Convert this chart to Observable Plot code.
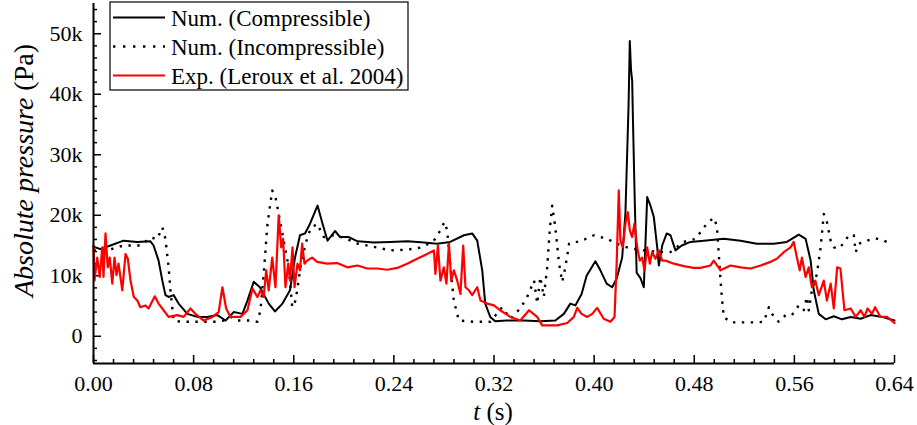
<!DOCTYPE html>
<html><head><meta charset="utf-8">
<script src="https://cdn.jsdelivr.net/npm/d3@7"></script>
<script src="https://cdn.jsdelivr.net/npm/@observablehq/plot@0.6"></script>
<style>body{margin:0;background:#fff}</style>
</head><body><div id="chart"></div>
<script>
// [t (s), absolute pressure (Pa)]
const compressible = [[0,14800],[0.0056,14400],[0.0136,15000],[0.024,15800],[0.035,15600],[0.0455,15700],[0.048,15000],[0.052,12500],[0.055,9200],[0.0575,6800],[0.060,6500],[0.064,6800],[0.068,5400],[0.075,3700],[0.083,3200],[0.091,3200],[0.099,3500],[0.1055,2600],[0.112,4000],[0.119,3700],[0.123,5900],[0.128,9000],[0.133,8100],[0.140,5400],[0.145,4100],[0.151,5400],[0.157,7600],[0.161,13000],[0.165,16700],[0.169,17000],[0.173,18600],[0.179,21600],[0.183,18600],[0.187,15800],[0.193,17400],[0.197,16400],[0.204,16400],[0.211,15700],[0.224,15500],[0.237,15600],[0.251,15700],[0.264,15500],[0.2746,15300],[0.285,15600],[0.296,16700],[0.3026,17000],[0.3066,15800],[0.3106,10900],[0.313,5400],[0.317,3200],[0.321,2500],[0.330,2600],[0.344,2600],[0.357,2500],[0.369,2600],[0.3758,3700],[0.381,5400],[0.385,5100],[0.390,7000],[0.394,10000],[0.401,12400],[0.405,10900],[0.410,8700],[0.4144,8100],[0.418,9500],[0.4224,13000],[0.425,20300],[0.4275,38000],[0.4285,48800],[0.4295,44000],[0.4304,42200],[0.431,36000],[0.4325,22000],[0.434,10500],[0.437,9600],[0.4397,8100],[0.4424,23000],[0.445,21600],[0.4477,19700],[0.4504,14700],[0.4517,11700],[0.4544,15000],[0.458,17000],[0.461,16700],[0.465,14200],[0.470,15000],[0.477,15600],[0.4877,15800],[0.5036,16100],[0.517,15800],[0.530,15300],[0.5435,15300],[0.554,15600],[0.5635,16800],[0.569,16100],[0.573,12500],[0.5755,7600],[0.5795,3700],[0.585,2800],[0.5915,3300],[0.598,2800],[0.605,3200],[0.613,2900],[0.621,3500],[0.630,3200],[0.64,2600]];

const incompressible = [[0,14200],[0.011,14200],[0.024,15000],[0.0375,15000],[0.0455,16300],[0.051,16100],[0.055,18000],[0.0575,16100],[0.060,11400],[0.0615,7600],[0.064,2600],[0.0695,2400],[0.099,2400],[0.104,2600],[0.1095,3200],[0.115,2600],[0.1254,2600],[0.131,2400],[0.1334,4300],[0.136,10300],[0.139,18600],[0.1428,24100],[0.1454,23000],[0.148,20200],[0.152,15800],[0.156,11400],[0.1588,4800],[0.1614,5900],[0.1627,7600],[0.1654,11400],[0.1694,15300],[0.1734,17800],[0.1787,18600],[0.184,16400],[0.192,16700],[0.200,16300],[0.211,15300],[0.2213,14900],[0.237,14200],[0.2506,14300],[0.2626,14700],[0.272,15800],[0.2772,17500],[0.2804,18900],[0.2826,17500],[0.2852,11400],[0.2879,5900],[0.2919,2600],[0.304,2400],[0.317,2400],[0.3265,4800],[0.333,2900],[0.341,4600],[0.3465,6500],[0.352,9200],[0.3545,5400],[0.357,9800],[0.3598,6500],[0.3625,11400],[0.3645,17500],[0.3665,21600],[0.369,18000],[0.372,12000],[0.3745,9000],[0.377,11400],[0.380,15300],[0.3825,15600],[0.388,15600],[0.400,16700],[0.4104,16100],[0.418,15300],[0.429,14500],[0.440,14200],[0.453,13900],[0.461,13900],[0.4716,15600],[0.481,16100],[0.485,17200],[0.490,18600],[0.4956,19600],[0.498,18300],[0.4996,13600],[0.501,9200],[0.5023,5900],[0.5036,3200],[0.509,2300],[0.530,2300],[0.5356,2400],[0.5396,4800],[0.5435,3200],[0.5475,2400],[0.553,3500],[0.558,3500],[0.5635,5100],[0.5675,4300],[0.570,6500],[0.5715,4300],[0.574,7600],[0.578,10300],[0.581,14700],[0.5835,20200],[0.586,18900],[0.589,15800],[0.5915,14700],[0.5955,14500],[0.5995,15400],[0.6035,16700],[0.6075,16700],[0.609,13900],[0.6115,15300],[0.618,15800],[0.6245,16200],[0.6315,15800],[0.638,15200]];

const experiment = [[0,15000],[0.0008,9200],[0.003,13000],[0.005,9800],[0.007,14700],[0.008,9800],[0.0096,17000],[0.0114,11400],[0.013,13000],[0.015,8700],[0.0168,13000],[0.0184,10100],[0.020,12000],[0.023,7600],[0.0256,13600],[0.0274,12800],[0.0296,9200],[0.0322,6500],[0.035,5900],[0.0375,4800],[0.0415,5100],[0.044,4600],[0.049,6600],[0.052,5400],[0.056,4300],[0.060,3200],[0.067,3500],[0.072,3200],[0.0775,4600],[0.0815,3700],[0.088,2600],[0.095,3200],[0.100,4000],[0.103,8100],[0.106,4600],[0.1095,3200],[0.1175,3200],[0.123,4300],[0.127,7900],[0.131,6500],[0.1334,7600],[0.136,6500],[0.138,10900],[0.140,7600],[0.1428,13000],[0.1454,8100],[0.148,20000],[0.150,14700],[0.1515,16100],[0.1534,8100],[0.1556,12000],[0.157,9200],[0.159,14700],[0.1606,8100],[0.163,12000],[0.165,10900],[0.1667,15300],[0.1686,12000],[0.1707,12500],[0.1747,13000],[0.1787,12300],[0.1867,12000],[0.1947,12100],[0.2027,11400],[0.211,11700],[0.2187,11200],[0.2267,11200],[0.2347,11000],[0.2427,11300],[0.2506,12000],[0.2586,12800],[0.2666,13600],[0.272,14200],[0.2732,10300],[0.2752,15000],[0.2772,9200],[0.2799,11400],[0.282,8700],[0.284,15300],[0.2858,9200],[0.288,10900],[0.2906,9200],[0.2932,7000],[0.2954,15000],[0.2972,8100],[0.300,7600],[0.3026,6800],[0.3066,8100],[0.3092,5900],[0.3146,5400],[0.320,5100],[0.325,4300],[0.333,3200],[0.341,2600],[0.348,4300],[0.3545,3200],[0.3585,1800],[0.3705,1800],[0.3785,2200],[0.3838,3200],[0.3865,4700],[0.390,3700],[0.3945,3200],[0.3985,3700],[0.4024,4700],[0.4077,2900],[0.413,2400],[0.4163,3200],[0.418,12000],[0.4197,24100],[0.421,15800],[0.4229,14700],[0.425,18600],[0.4269,20500],[0.4285,17500],[0.4304,16400],[0.4322,18600],[0.4344,14700],[0.4365,12500],[0.4384,13000],[0.4402,10900],[0.4424,14700],[0.4445,12000],[0.4464,13900],[0.449,12800],[0.4517,14200],[0.4544,12500],[0.457,12500],[0.4637,12000],[0.4716,11600],[0.4796,11300],[0.485,11300],[0.493,11700],[0.4956,12500],[0.501,10900],[0.509,11700],[0.517,11400],[0.525,11200],[0.533,11700],[0.541,12300],[0.546,12800],[0.5515,13900],[0.557,14700],[0.5595,15600],[0.562,13000],[0.5643,10900],[0.566,13000],[0.569,9800],[0.5715,11400],[0.574,8100],[0.5767,9200],[0.5795,6800],[0.5835,9200],[0.586,5900],[0.589,8700],[0.5915,4600],[0.5942,11400],[0.5968,11200],[0.600,4300],[0.605,4600],[0.609,3200],[0.613,4300],[0.616,3200],[0.6185,4600],[0.622,3700],[0.6245,4800],[0.6288,3200],[0.634,3200],[0.640,2200]];

const xTicks = [0, 0.08, 0.16, 0.24, 0.32, 0.40, 0.48, 0.56, 0.64];
const xMinorTicks = [0.016,0.032,0.048,0.064,0.096,0.112,0.128,0.144,0.176,0.192,0.208,0.224,0.256,0.272,0.288,0.304,0.336,0.352,0.368,0.384,0.416,0.432,0.448,0.464,0.496,0.512,0.528,0.544,0.576,0.592,0.608,0.624];
const yTicks = [0, 10000, 20000, 30000, 40000, 50000];
const yTickLabels = ["0", "10k", "20k", "30k", "40k", "50k"];
const yMinorTicks = [-4000,-2000,2000,4000,6000,8000,12000,14000,16000,18000,22000,24000,26000,28000,32000,34000,36000,38000,42000,44000,46000,48000,52000,54000];
const xDomain = [0, 0.64];
const yDomain = [-4500, 55000];
const seriesNames = ["Num. (Compressible)", "Num. (Incompressible)", "Exp. (Leroux et al. 2004)"];

const rows = a => a.map(([t, p]) => ({t, p}));
const SERIF = "Liberation Serif";

const plot = Plot.plot({
  width: 917, height: 425,
  marginLeft: 93, marginRight: 23, marginTop: 3, marginBottom: 62,
  x: {domain: xDomain},
  y: {domain: yDomain},
  marks: [
    Plot.axisX(xTicks, {tickSize: 0, tickPadding: 12, tickFormat: d3.format(".2f"), label: null, fill: "#000"}),
    Plot.axisY(yTicks, {tickSize: 0, tickPadding: 11, tickFormat: d => yTickLabels[yTicks.indexOf(d)], label: null, fill: "#000"}),
    Plot.tickX(xMinorTicks, {x: d => d, insetTop: 356, stroke: "#000", strokeWidth: 1.5}),
    Plot.tickX(xTicks, {x: d => d, insetTop: 352, stroke: "#000", strokeWidth: 1.5}),
    Plot.tickY(yMinorTicks, {y: d => d, insetRight: 797, stroke: "#000", strokeWidth: 1.5}),
    Plot.tickY(yTicks, {y: d => d, insetRight: 793, stroke: "#000", strokeWidth: 1.5}),
    Plot.line(rows(incompressible), {x: "t", y: "p", stroke: "#000", strokeWidth: 2.4, strokeDasharray: "2.4 6.5", strokeLinecap: "butt"}),
    Plot.line(rows(compressible), {x: "t", y: "p", stroke: "#000", strokeWidth: 2}),
    Plot.line(rows(experiment), {x: "t", y: "p", stroke: "#ff0000", strokeWidth: 2.2}),
    Plot.ruleX([xDomain[0]], {stroke: "#000", strokeWidth: 2}),
    Plot.ruleY([yDomain[0]], {stroke: "#000", strokeWidth: 2})
  ]
});
document.getElementById("chart").appendChild(plot);

const svg = d3.select(plot);

// Axis titles
const yl = svg.append("text").attr("text-anchor", "start").attr("transform", "translate(33,297) rotate(-90)")
  .attr("style", `font-family: '${SERIF}'; font-size: 28px`);
yl.append("tspan").attr("style", "font-style: italic").text("Absolute pressure");
yl.append("tspan").text(" (Pa)");
const xl = svg.append("text").attr("text-anchor", "middle").attr("x", 493).attr("y", 420)
  .attr("style", `font-family: '${SERIF}'; font-size: 25px`);
xl.append("tspan").attr("style", "font-style: italic").text("t");
xl.append("tspan").text(" (s)");

// Legend
const lg = svg.append("g");
lg.append("rect").attr("x", 110).attr("y", 2).attr("width", 298).attr("height", 88)
  .attr("fill", "#fff").attr("stroke", "#000").attr("stroke-width", 1.2);
const styles = [
  {stroke: "#000", width: 2, dash: null},
  {stroke: "#000", width: 2.4, dash: "2.4 7.6"},
  {stroke: "#ff0000", width: 2.2, dash: null}
];
seriesNames.forEach((name, i) => {
  const y = 17.5 + i * 29;
  const ln = lg.append("line").attr("x1", 113).attr("x2", 165).attr("y1", y).attr("y2", y)
    .attr("stroke", styles[i].stroke).attr("stroke-width", styles[i].width);
  if (styles[i].dash) ln.attr("stroke-dasharray", styles[i].dash);
  lg.append("text").attr("x", 171).attr("y", y + 8.5).attr("text-anchor", "start")
    .attr("style", `font-family: '${SERIF}'; font-size: 23px`).text(name);
});

// Plot's own tick labels
svg.selectAll("g[aria-label$='tick label'] text").attr("style", `font-family: '${SERIF}'; font-size: 22px`);
</script>
</body></html>
